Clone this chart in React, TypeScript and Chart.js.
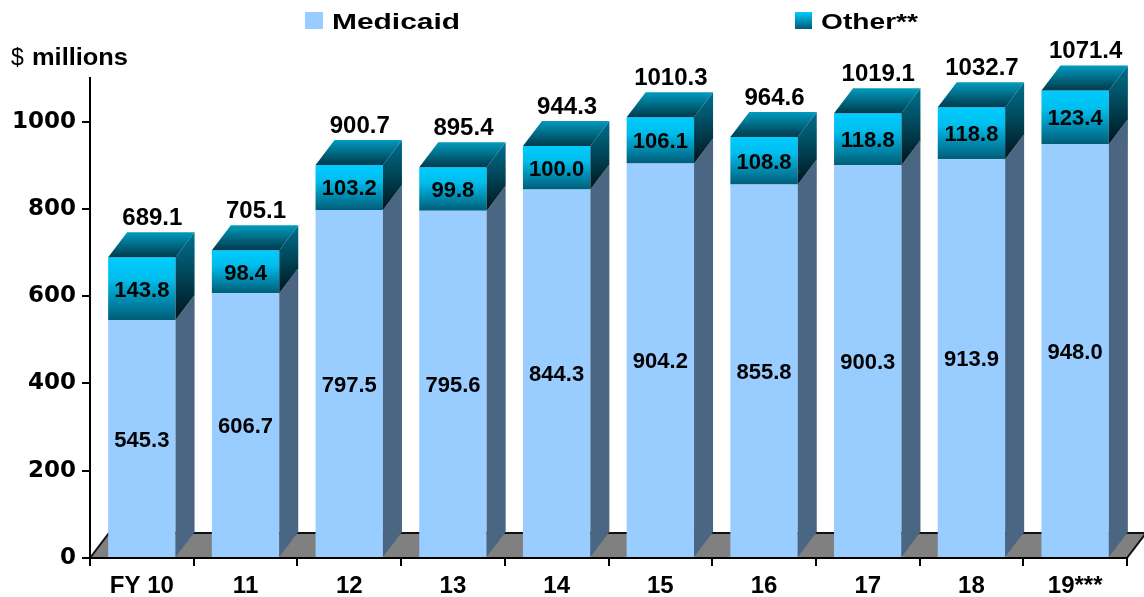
import { useEffect, useRef } from 'react';
import { Chart, registerables } from 'chart.js';

Chart.register(...registerables);

const categories = ['FY 10', '11', '12', '13', '14', '15', '16', '17', '18', '19***'];
const medicaid = [545.3, 606.7, 797.5, 795.6, 844.3, 904.2, 855.8, 900.3, 913.9, 948.0];
const other = [143.8, 98.4, 103.2, 99.8, 100.0, 106.1, 108.8, 118.8, 118.8, 123.4];
const totals = [689.1, 705.1, 900.7, 895.4, 944.3, 1010.3, 964.6, 1019.1, 1032.7, 1071.4];
const yTicks = [0, 200, 400, 600, 800, 1000];
const seriesNames = ['Medicaid', 'Other**'];
const yTitle = ['$', 'millions'];

const DX = 19;
const DY = 25;
const FONT = '"Liberation Sans", Arial, sans-serif';

function fitText(ctx: CanvasRenderingContext2D, text: string, x: number, y: number, w: number) {
  const m = ctx.measureText(text).width;
  ctx.save();
  ctx.translate(x, y);
  ctx.scale(w / m, 1);
  ctx.textAlign = 'left';
  ctx.fillText(text, 0, 0);
  ctx.restore();
}

const threeD = {
  id: 'threeD',
  beforeDraw(chart: any) {
    const { ctx, chartArea } = chart;
    const { left, right, bottom } = chartArea;
    ctx.save();
    ctx.fillStyle = '#ffffff';
    ctx.fillRect(0, 0, chart.width, chart.height);
    ctx.beginPath();
    ctx.moveTo(left, bottom);
    ctx.lineTo(right, bottom);
    ctx.lineTo(right + DX, bottom - DY);
    ctx.lineTo(left + DX, bottom - DY);
    ctx.closePath();
    ctx.fillStyle = '#808080';
    ctx.fill();
    ctx.strokeStyle = '#111';
    ctx.lineWidth = 2;
    ctx.beginPath();
    ctx.moveTo(left, bottom);
    ctx.lineTo(left + DX, bottom - DY);
    ctx.lineTo(right + DX, bottom - DY);
    ctx.moveTo(right, bottom);
    ctx.lineTo(right + DX, bottom - DY);
    ctx.stroke();
    ctx.restore();
  },
  afterDatasetsDraw(chart: any) {
    const { ctx } = chart;
    const m0 = chart.getDatasetMeta(0);
    const m1 = chart.getDatasetMeta(1);
    ctx.save();
    for (let i = 0; i < categories.length; i++) {
      const b0 = m0.data[i];
      const b1 = m1.data[i];
      const L = b0.x - b0.width / 2;
      const R = b0.x + b0.width / 2;
      const base = b0.base;
      const yMid = b0.y;
      const yTop = b1.y;
      ctx.beginPath();
      ctx.moveTo(R, yMid);
      ctx.lineTo(R + DX, yMid - DY);
      ctx.lineTo(R + DX, base - DY);
      ctx.lineTo(R, base);
      ctx.closePath();
      ctx.fillStyle = '#4A6682';
      ctx.fill();
      const gs = ctx.createLinearGradient(0, yTop - DY, 0, yMid);
      gs.addColorStop(0, '#00708E');
      gs.addColorStop(0.5, '#004558');
      gs.addColorStop(1, '#00141C');
      ctx.beginPath();
      ctx.moveTo(R, yTop);
      ctx.lineTo(R + DX, yTop - DY);
      ctx.lineTo(R + DX, yMid - DY);
      ctx.lineTo(R, yMid);
      ctx.closePath();
      ctx.fillStyle = gs;
      ctx.fill();
      const gt = ctx.createLinearGradient(0, yTop - DY, 0, yTop);
      gt.addColorStop(0, '#009CBE');
      gt.addColorStop(1, '#003A4C');
      ctx.beginPath();
      ctx.moveTo(L, yTop);
      ctx.lineTo(R, yTop);
      ctx.lineTo(R + DX, yTop - DY);
      ctx.lineTo(L + DX, yTop - DY);
      ctx.closePath();
      ctx.fillStyle = gt;
      ctx.fill();
    }
    ctx.fillStyle = '#000';
    ctx.textAlign = 'center';
    ctx.textBaseline = 'alphabetic';
    for (let i = 0; i < categories.length; i++) {
      const b0 = m0.data[i];
      const b1 = m1.data[i];
      ctx.font = `bold 22px ${FONT}`;
      ctx.fillText(medicaid[i].toFixed(1), b0.x, (b0.y + b0.base) / 2 + 8);
      ctx.fillText(other[i].toFixed(1), b0.x, (b1.y + b0.y) / 2 + 8);
      ctx.font = `bold 24px ${FONT}`;
      ctx.fillText(totals[i].toFixed(1), b0.x + DX / 2 + 1, b1.y - DY - 7);
    }
    ctx.restore();
  },
  afterDraw(chart: any) {
    const { ctx } = chart;
    ctx.save();
    ctx.fillStyle = '#000';
    ctx.textBaseline = 'alphabetic';
    ctx.font = `23px ${FONT}`;
    ctx.textAlign = 'left';
    ctx.fillText(yTitle[0], 11, 65);
    ctx.font = `bold 23px ${FONT}`;
    fitText(ctx, yTitle[1], 32, 65, 96);
    ctx.fillStyle = '#99CCFF';
    ctx.fillRect(305, 12, 18, 17);
    const lg = ctx.createLinearGradient(0, 12, 0, 29);
    lg.addColorStop(0, '#00CCFF');
    lg.addColorStop(1, '#005A74');
    ctx.fillStyle = lg;
    ctx.fillRect(795, 12, 17, 17);
    ctx.fillStyle = '#000';
    ctx.font = `bold 22px ${FONT}`;
    fitText(ctx, seriesNames[0], 332, 29, 128);
    fitText(ctx, seriesNames[1], 821, 29, 97);
    ctx.restore();
  },
};

export default function App() {
  const ref = useRef<HTMLCanvasElement>(null);
  useEffect(() => {
    document.body.style.margin = '0';
    const chart = new Chart(ref.current as HTMLCanvasElement, {
      type: 'bar',
      data: {
        labels: categories,
        datasets: [
          {
            label: seriesNames[0],
            data: medicaid,
            backgroundColor: '#99CCFF',
            borderWidth: 0,
          },
          {
            label: seriesNames[1],
            data: other,
            borderWidth: 0,
            backgroundColor: (c: any) => {
              const ch = c.chart;
              const { ctx, chartArea, scales } = ch;
              if (!chartArea || c.type !== 'data' || !scales.y) return '#00B8E8';
              const i = c.dataIndex;
              const y0 = scales.y.getPixelForValue(medicaid[i] + other[i]);
              const y1 = scales.y.getPixelForValue(medicaid[i]);
              const g = ctx.createLinearGradient(0, y0, 0, y1);
              g.addColorStop(0, '#00CCFF');
              g.addColorStop(0.35, '#00BDEC');
              g.addColorStop(1, '#005C76');
              return g;
            },
          },
        ],
      },
      options: {
        responsive: false,
        animation: false,
        layout: { padding: { top: 78, right: 17, left: 0, bottom: 0 } },
        plugins: {
          legend: { display: false },
          tooltip: { enabled: false },
          title: { display: false },
        },
        datasets: {
          bar: { categoryPercentage: 1, barPercentage: 0.65 },
        },
        scales: {
          x: {
            stacked: true,
            offset: true,
            grid: {
              offset: true,
              drawOnChartArea: false,
              drawTicks: true,
              tickLength: 8,
              color: '#000',
              lineWidth: 2,
            },
            border: { color: '#000', width: 2 },
            ticks: {
              color: '#000',
              font: { family: FONT, size: 24, weight: 'bold' },
              padding: 6,
              maxRotation: 0,
              autoSkip: false,
            },
            afterFit: (s: any) => {
              s.height = 39;
            },
          },
          y: {
            stacked: true,
            min: 0,
            max: 1100,
            grid: {
              drawOnChartArea: false,
              drawTicks: true,
              tickLength: 8,
              color: '#000',
              lineWidth: 2,
            },
            border: { color: '#000', width: 2 },
            ticks: {
              color: '#000',
              font: { family: '"DejaVu Sans", sans-serif', size: 23, weight: 'bold' },
              padding: 6,
              callback: (v: any) => String(v),
            },
            afterBuildTicks: (s: any) => {
              s.ticks = yTicks.map((v) => ({ value: v }));
            },
            afterFit: (s: any) => {
              s.width = 90;
            },
          },
        },
      },
      plugins: [threeD],
    });
    return () => chart.destroy();
  }, []);
  return (
    <div style={{ position: 'absolute', left: 0, top: 0, width: 1144, height: 597, background: '#fff' }}>
      <canvas ref={ref} width={1144} height={597} style={{ width: 1144, height: 597, display: 'block' }} />
    </div>
  );
}
